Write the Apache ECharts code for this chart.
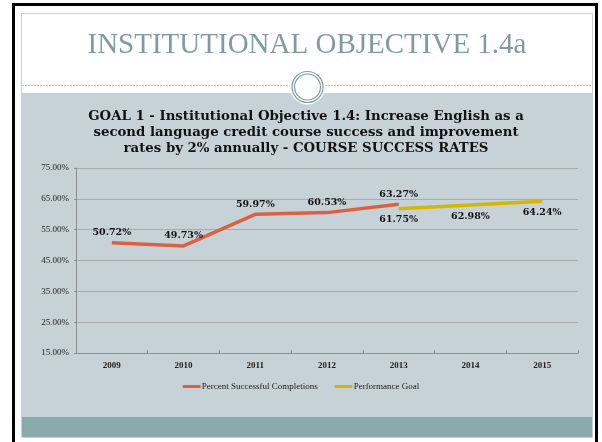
<!DOCTYPE html>
<html lang="en">

<head>
  <meta charset="UTF-8">
  <title>Institutional Objective 1.4a</title>
  <script src="https://cdn.jsdelivr.net/npm/echarts@6/dist/echarts.min.js"></script>
</head>
<style>
  * {
    margin: 0px;
    padding: 0px;
  }

  body {
    background: #fff;
  }

  #main {
    width: 602px;
    height: 442px;
  }
</style>

<body>
  <div id="main"></div>
</body>
<script>
  var years = ['2009', '2010', '2011', '2012', '2013', '2014', '2015']
  var success = [50.72, 49.73, 59.97, 60.53, 63.27, null, null]
  var goal = [null, null, null, null, 61.75, 62.98, 64.24]
  var yMin = 15, yMax = 75, yStep = 10

  var serif = 'Liberation Serif'
  var boldSerif = 'DejaVu Serif'
  var pct = function (v) { return Number(v).toFixed(2) + '%' }

  var chart = echarts.init(document.getElementById('main'))
  chart.setOption({
    backgroundColor: '#ffffff',
    animation: false,
    graphic: [
      // slide frame and panels
      { type: 'rect', z: -10, shape: { x: 21, y: 93, width: 572, height: 324 }, style: { fill: '#c6d2d8' } },
      { type: 'rect', z: -10, shape: { x: 21, y: 417, width: 572, height: 20 }, style: { fill: '#89abab' } },
      { type: 'rect', z: -9, shape: { x: 21.5, y: 13.5, width: 571, height: 424 }, style: { fill: null, stroke: '#c6d2d8', lineWidth: 1 } },
      { type: 'line', z: -9, shape: { x1: 22, y1: 85.5, x2: 592, y2: 85.5 }, style: { stroke: '#b5c6c8', lineWidth: 1, lineDash: [2, 1] } },
      { type: 'circle', z: -8, shape: { cx: 307.5, cy: 87, r: 17.5 }, style: { fill: '#ffffff' } },
      { type: 'circle', z: -8, shape: { cx: 307.5, cy: 87, r: 15.5 }, style: { fill: null, stroke: '#7f9c9d', lineWidth: 1.2 } },
      { type: 'circle', z: -8, shape: { cx: 307.5, cy: 87, r: 13 }, style: { fill: null, stroke: '#7f9c9d', lineWidth: 1.2 } },
      { type: 'rect', z: 20, shape: { x: 13.5, y: 4.5, width: 583, height: 460 }, style: { fill: null, stroke: '#000', lineWidth: 3 } },
      {
        type: 'text', z: 5, x: 307, y: 45,
        style: {
          text: 'INSTITUTIONAL OBJECTIVE 1.4a', fill: '#7f9c9d',
          font: '29px "Liberation Serif"', textAlign: 'center', textVerticalAlign: 'middle'
        }
      }
    ],
    title: {
      text: 'GOAL 1 - Institutional Objective 1.4: Increase English as a\nsecond language credit course success and improvement\nrates by 2% annually - COURSE SUCCESS RATES',
      left: 306,
      top: 109,
      padding: 0,
      textAlign: 'center',
      textStyle: {
        fontFamily: boldSerif,
        fontWeight: 'bold',
        fontSize: 13.3,
        lineHeight: 16,
        color: '#111'
      }
    },
    legend: {
      left: 'center',
      top: 382,
      padding: 0,
      icon: 'rect',
      itemWidth: 18,
      itemHeight: 3,
      itemGap: 17,
      textStyle: { fontFamily: serif, fontSize: 9, color: '#1a1a1a', padding: [0, 0, 0, -4] },
      data: ['Percent Successful Completions', 'Performance Goal']
    },
    grid: {
      left: 76,
      right: 24,
      top: 168,
      bottom: 89,
      containLabel: false
    },
    xAxis: {
      type: 'category',
      data: years,
      boundaryGap: true,
      axisLine: { lineStyle: { color: '#8a8f94', width: 1 } },
      axisTick: { show: true, length: 3, inside: true, lineStyle: { color: '#8a8f94' } },
      axisLabel: { fontFamily: serif, fontSize: 9, fontWeight: 'bold', color: '#222', margin: 8 }
    },
    yAxis: {
      type: 'value',
      min: yMin,
      max: yMax,
      interval: yStep,
      axisLine: { show: true, lineStyle: { color: '#8a8f94', width: 1 } },
      axisTick: { show: true, length: 2, lineStyle: { color: '#8a8f94' } },
      splitLine: { lineStyle: { color: '#a6abb0', width: 1 } },
      axisLabel: { fontFamily: serif, fontSize: 9, color: '#222', margin: 7, formatter: pct }
    },
    series: [{
      name: 'Percent Successful Completions',
      type: 'line',
      data: success,
      showSymbol: true,
      symbol: 'circle',
      symbolSize: 0,
      color: '#dc6142',
      lineStyle: { width: 3.5, color: '#dc6142' },
      label: {
        show: true,
        position: 'top',
        distance: 5,
        fontFamily: boldSerif,
        fontWeight: 'bold',
        fontSize: 9.5,
        color: '#111',
        formatter: function (p) { return pct(p.value) }
      }
    }, {
      name: 'Performance Goal',
      type: 'line',
      data: goal,
      showSymbol: true,
      symbol: 'circle',
      symbolSize: 0,
      color: '#d4b800',
      lineStyle: { width: 3.5, color: '#d4b800' },
      label: {
        show: true,
        position: 'bottom',
        distance: 6,
        fontFamily: boldSerif,
        fontWeight: 'bold',
        fontSize: 9.5,
        color: '#111',
        formatter: function (p) { return pct(p.value) }
      }
    }]
  })
</script>

</html>
